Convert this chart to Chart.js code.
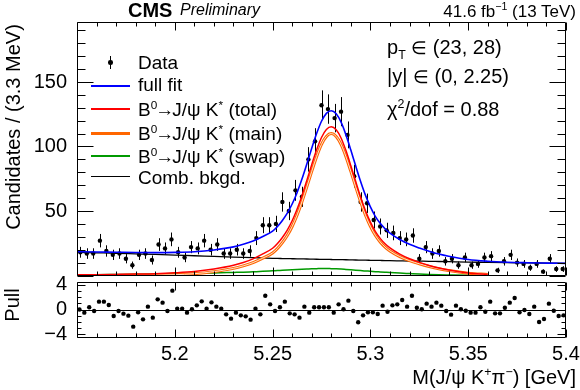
<!DOCTYPE html>
<html>
<head>
<meta charset="utf-8">
<script src="https://cdn.jsdelivr.net/npm/chart.js@4.4.0/dist/chart.umd.min.js"></script>
<style>
  body { margin: 0; background: #fff; }
  #wrap { position: relative; width: 580px; height: 390px; overflow: hidden; background: #fff;
          font-family: "Liberation Sans", Arial, Helvetica, sans-serif; color: #000; }
  #mainChart { position: absolute; left: 0; top: 0; }
  #pullChart { position: absolute; left: 0; top: 262px; }
  .t { position: absolute; white-space: nowrap; line-height: 1; }
  .leg { font-size: 19px; left: 138px; }
  .info { font-size: 20px; left: 387px; }
  .ln { position: absolute; left: 91px; width: 39px; }
  .arr { margin: 0 -2px 0 -2px; }
  .el { font-size: 88%; }
  sup, sub { font-size: 62%; line-height: 0; }
</style>
</head>
<body>
<div id="wrap">
  <canvas id="mainChart" width="580" height="280"></canvas>
  <canvas id="pullChart" width="580" height="128"></canvas>

  <div class="t" style="left:128px;top:0px;font-size:20px;font-weight:bold">CMS</div>
  <div class="t" style="left:180px;top:2px;font-size:16px;font-style:italic">Preliminary</div>
  <div class="t" style="right:4px;top:3px;font-size:17px">41.6 fb<sup>−1</sup> (13 TeV)</div>

  <!-- legend -->
  <div style="position:absolute;left:110px;top:56px;width:1px;height:13px;background:#000"></div>
  <div style="position:absolute;left:108.3px;top:60.3px;width:4.4px;height:4.4px;border-radius:50%;background:#000"></div>
  <div class="t leg" style="top:53px">Data</div>
  <div class="ln" style="top:85px;height:2px;background:#0000ff"></div>
  <div class="t leg" style="top:75px">full fit</div>
  <div class="ln" style="top:108px;height:2px;background:#ff0000"></div>
  <div class="t leg" style="top:99.5px">B<sup>0</sup><span class="arr">→</span>J/ψ K<sup>*</sup> (total)</div>
  <div class="ln" style="top:132px;height:3px;background:#ff6600"></div>
  <div class="t leg" style="top:123.5px">B<sup>0</sup><span class="arr">→</span>J/ψ K<sup>*</sup> (main)</div>
  <div class="ln" style="top:155px;height:2px;background:#009900"></div>
  <div class="t leg" style="top:147px">B<sup>0</sup><span class="arr">→</span>J/ψ K<sup>*</sup> (swap)</div>
  <div class="ln" style="top:176px;height:1px;background:#000"></div>
  <div class="t leg" style="top:167.5px">Comb. bkgd.</div>

  <!-- fit info -->
  <div class="t info" style="top:37px">p<sub>T</sub> <span class="el">∈</span> (23, 28)</div>
  <div class="t info" style="top:66px">|y| <span class="el">∈</span> (0, 2.25)</div>
  <div class="t info" style="top:99px">χ<sup>2</sup>/dof = 0.88</div>

  <!-- axis titles -->
  <div class="t" style="left:13px;top:127px;font-size:20px;transform:translate(-50%,-50%) rotate(-90deg)">Candidates / (3.3 MeV)</div>
  <div class="t" style="left:12px;top:305px;font-size:20px;transform:translate(-50%,-50%) rotate(-90deg)">Pull</div>
  <div class="t" style="right:4px;top:367px;font-size:20px">M(J/ψ K<sup>+</sup>π<sup>−</sup>) [GeV]</div>
</div>

<script>
// ---- data ----
// measured candidates (3.3 MeV bins)
const dataMass = [
  5.1517, 5.1550, 5.1583, 5.1617, 5.1650, 5.1683, 5.1717, 5.1750, 5.1783, 5.1817,
  5.1850, 5.1883, 5.1917, 5.1950, 5.1983, 5.2017, 5.2050, 5.2083, 5.2117, 5.2150,
  5.2183, 5.2217, 5.2250, 5.2283, 5.2317, 5.2350, 5.2383, 5.2417, 5.2450, 5.2483,
  5.2517, 5.2550, 5.2583, 5.2617, 5.2650, 5.2683, 5.2717, 5.2750, 5.2783, 5.2817,
  5.2850, 5.2883, 5.2917, 5.2950, 5.2983, 5.3017, 5.3050, 5.3083, 5.3117, 5.3150,
  5.3183, 5.3217, 5.3250, 5.3283, 5.3317, 5.3350, 5.3383, 5.3417, 5.3450, 5.3483,
  5.3517, 5.3550, 5.3583, 5.3617, 5.3650, 5.3683, 5.3717, 5.3750, 5.3783, 5.3817,
  5.3850, 5.3883, 5.3917, 5.3950, 5.3983
];
const dataCounts = [
  18, 17, 17, 27, 19, 16, 17, 13, 8, 16,
  17, 12, 24, 21, 28, 18, 14, 22, 21, 27,
  20, 24, 17, 17, 20, 17, 19, 29, 39, 39,
  40, 57, 50, 66, 61, 90, 104, 132, 129, 122,
  127, 109, 77, 57, 56, 43, 38, 35, 33, 29,
  28, 31, 13, 22, 17, 19, 11, 13, 8, 14,
  8, 9, 14, 15, 4, 11, 16, 10, 9, 6,
  9, 3, 13, 5, 5
];
const dataErrors = [
  4.2, 4.1, 4.1, 5.2, 4.4, 4.0, 4.1, 3.6, 2.8, 4.0,
  4.1, 3.5, 4.9, 4.6, 5.3, 4.2, 3.7, 4.7, 4.6, 5.2,
  4.5, 4.9, 4.1, 4.1, 4.5, 4.1, 4.4, 5.4, 6.2, 6.2,
  6.3, 7.5, 7.1, 8.1, 7.8, 9.5, 10.2, 11.5, 11.4, 11.0,
  11.3, 10.4, 8.8, 7.5, 7.5, 6.6, 6.2, 5.9, 5.7, 5.4,
  5.3, 5.6, 3.6, 4.7, 4.1, 4.4, 3.3, 3.6, 2.8, 3.7,
  2.8, 3.0, 3.7, 3.9, 2.0, 3.3, 4.0, 3.2, 3.0, 2.4,
  3.0, 1.7, 3.6, 2.2, 2.2
];

// fit curves sampled along the mass axis
const fitMass = [
  5.15, 5.16, 5.17, 5.18, 5.19, 5.20, 5.21, 5.22, 5.23,
  5.235, 5.24, 5.245, 5.25,
  5.2525, 5.255, 5.2575, 5.26, 5.2625, 5.265, 5.2675, 5.27, 5.2725, 5.275, 5.2775, 5.28,
  5.2825, 5.285, 5.2875, 5.29, 5.2925, 5.295, 5.2975, 5.30, 5.3025, 5.305, 5.3075, 5.31,
  5.315, 5.32, 5.325, 5.33, 5.335, 5.34,
  5.35, 5.36, 5.37, 5.38, 5.39, 5.40
];
const fullFit = [
  18.52, 18.23, 18.05, 17.85, 17.75, 17.9, 18.4, 19.8, 22.2,
  24.15, 26.7, 30.25, 34.4,
  38.0, 42.65, 48.3, 55.4, 64.2, 74.75, 86.5, 98.6, 110.0, 119.55, 125.7, 127.7,
  125.3, 118.85, 109.0, 97.2, 84.8, 72.85, 62.1, 53.2, 45.9, 40.45, 36.2, 32.9,
  27.95, 24.2, 21.3, 18.8, 16.6, 14.9,
  12.35, 11.05, 10.3, 9.9, 9.63, 9.41
];
const totalSig = [
  0.52, 0.63, 0.85, 1.1, 1.45, 2.1, 3.1, 5.0, 7.9,
  10.1, 12.9, 16.7, 21.1,
  24.8, 29.5, 35.2, 42.4, 51.3, 61.9, 73.7, 85.9, 97.4, 107.0, 113.2, 115.3,
  113.0, 106.6, 96.8, 85.1, 72.8, 60.9, 50.2, 41.4, 34.2, 28.8, 24.6, 21.4,
  16.6, 13.0, 10.2, 7.8, 5.75, 4.2,
  1.95, 0.85, null, null, null, null
];
const mainSig = [
  0.02, 0.03, 0.05, 0.1, 0.25, 0.6, 1.4, 3.0, 5.5,
  7.5, 10.0, 13.5, 17.5,
  21.0, 25.5, 31.0, 38.0, 46.7, 57.1, 68.7, 80.7, 92.1, 101.6, 107.8, 110.0,
  107.8, 101.6, 92.1, 80.7, 68.7, 57.1, 46.7, 38.1, 31.2, 26.0, 22.0, 19.0,
  14.7, 11.5, 9.1, 7.0, 5.2, 3.8,
  1.8, 0.8, null, null, null, null
];
const swapSig = [
  0.5, 0.6, 0.8, 1.0, 1.2, 1.5, 1.7, 2.0, 2.4,
  2.6, 2.9, 3.2, 3.6,
  3.8, 4.0, 4.2, 4.4, 4.6, 4.8, 5.0, 5.2, 5.3, 5.4, 5.4, 5.3,
  5.2, 5.0, 4.7, 4.4, 4.1, 3.8, 3.5, 3.3, 3.0, 2.8, 2.6, 2.4,
  1.9, 1.5, 1.1, 0.8, 0.55, 0.4,
  0.15, 0.05, null, null, null, null
];
const combBkg = [
  18.0, 17.6, 17.2, 16.75, 16.3, 15.8, 15.3, 14.8, 14.3,
  14.05, 13.8, 13.55, 13.3,
  13.2, 13.15, 13.1, 13.0, 12.9, 12.85, 12.8, 12.7, 12.6, 12.55, 12.5, 12.4,
  12.3, 12.25, 12.2, 12.1, 12.0, 11.95, 11.9, 11.8, 11.7, 11.65, 11.6, 11.5,
  11.35, 11.2, 11.1, 11.0, 10.85, 10.7,
  10.4, 10.2, 10.0, 9.8, 9.6, 9.4
];

// pulls (2.5 MeV steps)
const pullMass = [
  5.15125, 5.15375, 5.15625, 5.15875, 5.16125, 5.16375, 5.16625, 5.16875,
  5.17125, 5.17375, 5.17625, 5.17875, 5.18125, 5.18375, 5.18625, 5.18875,
  5.19125, 5.19375, 5.19625, 5.19875, 5.20125, 5.20375, 5.20625, 5.20875,
  5.21125, 5.21375, 5.21625, 5.21875, 5.22125, 5.22375, 5.22625, 5.22875,
  5.23125, 5.23375, 5.23625, 5.23875, 5.24125, 5.24375, 5.24625, 5.24875,
  5.25125, 5.25375, 5.25625, 5.25875, 5.26125, 5.26375, 5.26625, 5.26875,
  5.27125, 5.27375, 5.27625, 5.27875, 5.28125, 5.28375, 5.28625, 5.28875,
  5.29125, 5.29375, 5.29625, 5.29875, 5.30125, 5.30375, 5.30625, 5.30875,
  5.31125, 5.31375, 5.31625, 5.31875, 5.32125, 5.32375, 5.32625, 5.32875,
  5.33125, 5.33375, 5.33625, 5.33875, 5.34125, 5.34375, 5.34625, 5.34875,
  5.35125, 5.35375, 5.35625, 5.35875, 5.36125, 5.36375, 5.36625, 5.36875,
  5.37125, 5.37375, 5.37625, 5.37875, 5.38125, 5.38375, 5.38625, 5.38875,
  5.39125, 5.39375, 5.39625, 5.39875
];
const pullValues = [
  0.0, -0.51, 0.35, -0.24, 1.26, 1.26, 0.72, -1.05, -0.24, -0.67,
  -0.99, -2.76, -0.46, -1.58, 0.46, -1.31, 1.63, 1.10, -0.24, 3.03,
  0.13, 0.13, -0.51, 0.03, 0.67, 1.31, 0.13, 1.15, 0.46, 0.13,
  -0.78, -1.47, -0.51, -0.94, -1.10, -1.63, 0.13, -0.78, 2.22, 0.83,
  -0.24, 0.35, 1.26, -0.62, -0.78, -1.31, 0.46, -0.51, 0.35, 0.35,
  0.35, 0.35, -0.51, 0.83, 0.03, 1.42, -0.24, -2.06, -0.94, -0.46,
  -0.46, -0.72, 0.62, -0.35, 0.67, 0.83, 1.53, 0.46, 2.22, 0.29,
  0.03, 0.94, 0.46, 1.10, 0.62, -0.24, -0.83, 0.62, 0.03, -0.19,
  -0.51, -0.51, 0.35, -0.35, 1.26, -0.62, -0.62, 0.29, 1.10, 1.85,
  -0.46, -0.08, -0.72, 0.46, -2.01, -1.53, 0.94, -0.19, -1.05, -0.94
];

// tick labels
const massTicks = [5.2, 5.25, 5.3, 5.35, 5.4];
const countTicks = [50, 100, 150];
const pullTicks = [-4, 0, 4];

// ---- drawing ----
const FONT = '"Liberation Sans", Arial, Helvetica, sans-serif';
Chart.defaults.font.family = FONT;
Chart.defaults.color = '#000';

function pts(xs, ys) {
  return xs.map((x, i) => ({ x: x, y: ys[i] }));
}

function curve(values, color, width, order) {
  return {
    data: pts(fitMass, values),
    borderColor: color,
    borderWidth: width,
    pointRadius: 0,
    fill: false,
    cubicInterpolationMode: 'monotone',
    order: order
  };
}

// ROOT-like frame with inward ticks
function rootFrame(cfg) {
  return {
    id: 'rootFrame',
    afterDatasetsDraw(chart) {
      const { ctx, chartArea: a, scales: { x, y } } = chart;
      const L = Math.round(a.left) + 0.5, R = Math.round(a.right) - 0.5;
      const T = Math.round(a.top) + 0.5, B = Math.round(a.bottom) - 0.5;
      ctx.save();
      ctx.strokeStyle = '#000';
      ctx.lineWidth = 1;
      ctx.beginPath();
      if (cfg.zeroLine) {
        const z = Math.round(y.getPixelForValue(0)) + 0.5;
        ctx.moveTo(L, z); ctx.lineTo(R, z);
      }
      for (let k = 515; k <= 540; k++) {
        const px = Math.round(x.getPixelForValue(k / 100)) + 0.5;
        const len = k % 5 === 0 ? cfg.xMajor : cfg.xMinor;
        ctx.moveTo(px, B); ctx.lineTo(px, B - len);
        ctx.moveTo(px, T); ctx.lineTo(px, T + len);
      }
      for (let v = cfg.from; v <= cfg.to; v += cfg.step) {
        const py = Math.round(y.getPixelForValue(v)) + 0.5;
        const len = v % cfg.major === 0 ? cfg.yMajor : cfg.yMinor;
        ctx.moveTo(L, py); ctx.lineTo(L + len, py);
        ctx.moveTo(R, py); ctx.lineTo(R - len, py);
      }
      ctx.rect(L, T, R - L, B - T);
      ctx.stroke();
      ctx.restore();
    }
  };
}

const errorBars = {
  id: 'errorBars',
  beforeDatasetsDraw(chart) {
    const { ctx, chartArea: a, scales: { x, y } } = chart;
    ctx.save();
    ctx.beginPath();
    ctx.rect(a.left, a.top, a.right - a.left, a.bottom - a.top);
    ctx.clip();
    ctx.strokeStyle = '#000';
    ctx.lineWidth = 1;
    ctx.beginPath();
    dataMass.forEach((m, i) => {
      const px = Math.round(x.getPixelForValue(m)) + 0.5;
      ctx.moveTo(px, y.getPixelForValue(dataCounts[i] - dataErrors[i]));
      ctx.lineTo(px, y.getPixelForValue(dataCounts[i] + dataErrors[i]));
    });
    ctx.stroke();
    ctx.restore();
  }
};

const tickFont = { family: FONT, size: 20 };

// main panel
new Chart(document.getElementById('mainChart'), {
  type: 'line',
  data: {
    datasets: [
      curve(fullFit, '#0000ff', 1.6, 1),
      curve(totalSig, '#ff0000', 1.5, 2),
      curve(mainSig, '#ffffff', 0.8, 3),
      curve(mainSig, '#ff6600', 3, 4),
      curve(swapSig, '#009900', 1.5, 5),
      curve(combBkg, '#000000', 1.3, 6),
      {
        type: 'scatter',
        data: pts(dataMass, dataCounts),
        pointRadius: 2.2,
        pointBackgroundColor: '#000',
        pointBorderWidth: 0,
        showLine: false,
        order: 10
      }
    ]
  },
  options: {
    responsive: false,
    animation: false,
    layout: { padding: { top: 22, right: 14, bottom: 4.5, left: 0 } },
    plugins: { legend: { display: false }, tooltip: { enabled: false } },
    scales: {
      x: { type: 'linear', min: 5.15, max: 5.4, display: false },
      y: {
        type: 'linear', min: 0, max: 196.5,
        grid: { display: false, drawTicks: false },
        border: { display: false },
        afterBuildTicks: s => { s.ticks = countTicks.map(v => ({ value: v })); },
        afterFit: s => { s.width = 77; s.paddingTop = 0; s.paddingBottom = 0; },
        ticks: { font: tickFont, color: '#000', padding: 10 }
      }
    }
  },
  plugins: [errorBars, rootFrame({ from: 0, to: 190, step: 10, major: 50, yMajor: 16, yMinor: 8, xMajor: 8, xMinor: 4 })]
});

// pull panel
new Chart(document.getElementById('pullChart'), {
  type: 'scatter',
  data: {
    datasets: [{
      data: pts(pullMass, pullValues),
      pointRadius: 2.2,
      pointBackgroundColor: '#000',
      pointBorderWidth: 0
    }]
  },
  options: {
    responsive: false,
    animation: false,
    layout: { padding: { top: 19.5, right: 14, bottom: 0, left: 0 } },
    plugins: { legend: { display: false }, tooltip: { enabled: false } },
    scales: {
      x: {
        type: 'linear', min: 5.15, max: 5.4,
        grid: { display: false, drawTicks: false },
        border: { display: false },
        afterBuildTicks: s => { s.ticks = massTicks.map(v => ({ value: v })); },
        afterFit: s => { s.height = 52.5; s.paddingLeft = 0; s.paddingRight = 0; },
        ticks: { font: tickFont, color: '#000', padding: 5, maxRotation: 0, autoSkip: false,
                 callback: v => String(v) }
      },
      y: {
        type: 'linear', min: -4.5, max: 4.5,
        grid: { display: false, drawTicks: false },
        border: { display: false },
        afterBuildTicks: s => { s.ticks = pullTicks.map(v => ({ value: v })); },
        afterFit: s => { s.width = 77; s.paddingTop = 0; s.paddingBottom = 0; },
        ticks: { font: tickFont, color: '#000', padding: 10,
                 callback: v => (v < 0 ? '−' + Math.abs(v) : String(v)) }
      }
    }
  },
  plugins: [rootFrame({ from: -4, to: 4, step: 1, major: 4, yMajor: 8, yMinor: 4, xMajor: 8, xMinor: 4, zeroLine: true })]
});
</script>
</body>
</html>
